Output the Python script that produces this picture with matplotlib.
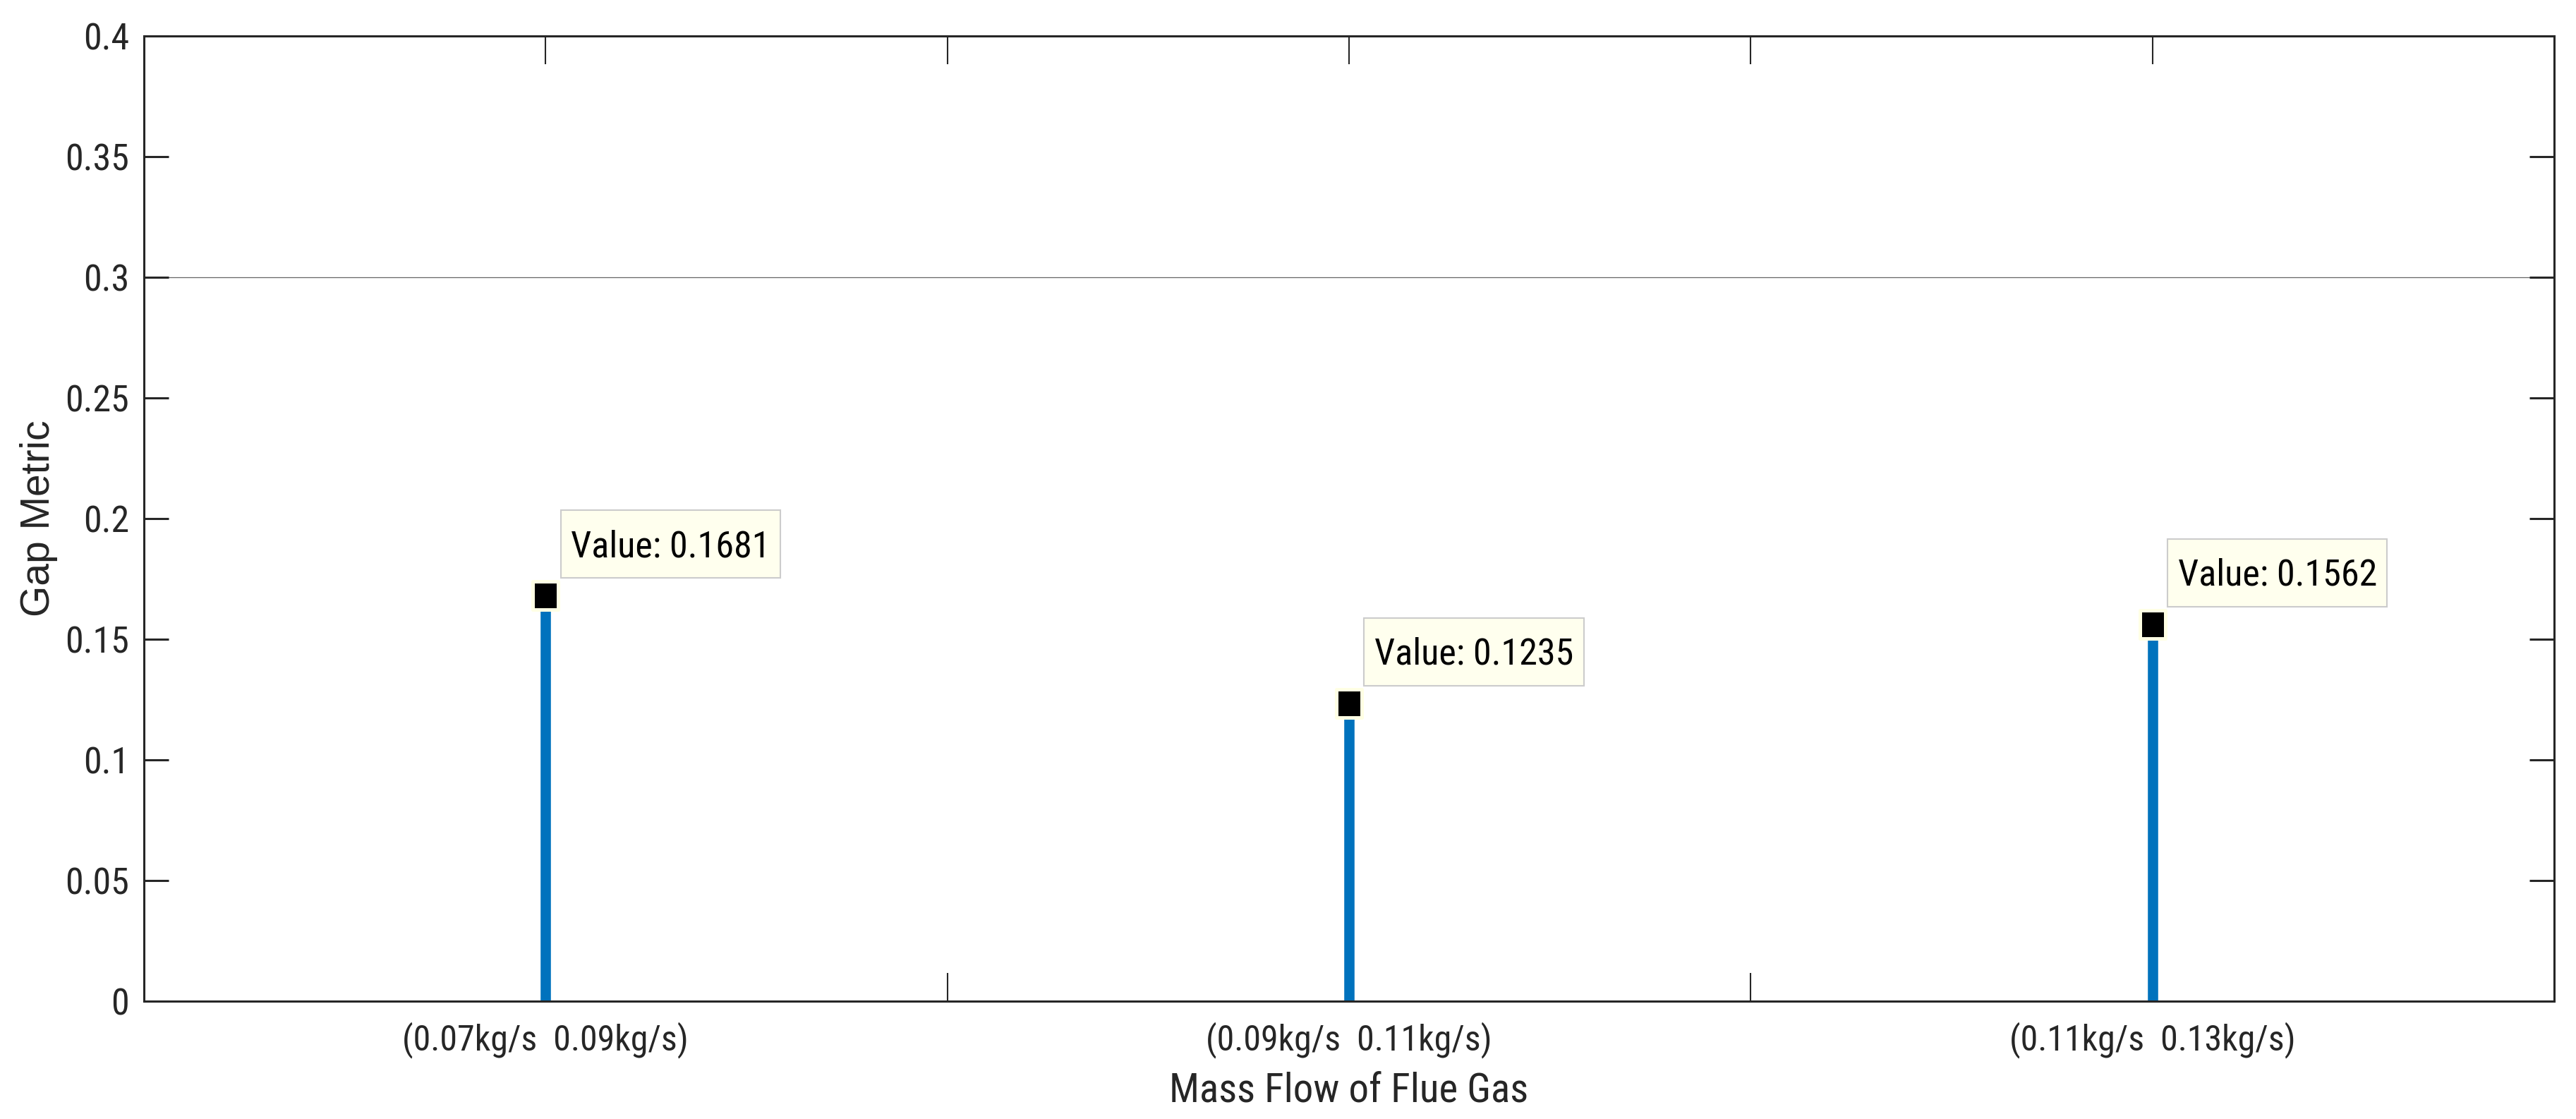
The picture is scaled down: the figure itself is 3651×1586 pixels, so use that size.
import matplotlib
matplotlib.use('Agg')
import matplotlib.pyplot as plt
from matplotlib import font_manager as fm
from matplotlib.path import Path

# ---------------- data ----------------
categories = ['(0.07kg/s  0.09kg/s)', '(0.09kg/s  0.11kg/s)', '(0.11kg/s  0.13kg/s)']
positions = [1, 2, 3]
gap_values = [0.1681, 0.1235, 0.1562]
y_ticks = [0, 0.05, 0.1, 0.15, 0.2, 0.25, 0.3, 0.35, 0.4]
y_tick_labels = ['0', '0.05', '0.1', '0.15', '0.2', '0.25', '0.3', '0.35', '0.4']
threshold = 0.3
x_label = 'Mass Flow of Flue Gas'
y_label = 'Gap Metric'

# ---------------- fonts ----------------
names = {f.name for f in fm.fontManager.ttflist}
narrow = next((n for n in ['Roboto Condensed', 'Archivo Narrow', 'Liberation Sans'] if n in names),
              'DejaVu Sans')
regular = 'Liberation Sans' if 'Liberation Sans' in names else 'DejaVu Sans'
plt.rcParams['font.family'] = [narrow, 'DejaVu Sans']

TXT = '#262626'
XTICK_FS = 36
YTICK_FS = 37.5
TIP_FS = 37.5
LABEL_FS = 41


def tip_box(x0, y0, width, height, mutation_size, hpad=0.28, top=0.52, bottom=0.37):
    px = hpad * mutation_size
    xa, ya = x0 - px, y0 - bottom * mutation_size
    xb, yb = x0 + width + px, y0 + height + top * mutation_size
    return Path([(xa, ya), (xb, ya), (xb, yb), (xa, yb), (xa, ya)],
                [Path.MOVETO, Path.LINETO, Path.LINETO, Path.LINETO, Path.CLOSEPOLY])


# slightly narrow square (datatip marker)
tip_marker = Path([(-0.435, -0.5), (0.435, -0.5), (0.435, 0.5), (-0.435, 0.5), (-0.435, -0.5)],
                  [Path.MOVETO, Path.LINETO, Path.LINETO, Path.LINETO, Path.CLOSEPOLY])

fig = plt.figure(figsize=(36.51, 15.86), dpi=100)
ax = fig.add_axes([0.05587, 0.10530, 0.93563, 0.86255])

# stems
markerline, stemlines, baseline = ax.stem(positions, gap_values, basefmt=' ')
stemlines.set_color('#0072BD')
stemlines.set_linewidth(10.5)
stemlines.set_zorder(2)
markerline.set_visible(False)

# datatip markers
ax.plot(positions, gap_values, linestyle='none', marker=tip_marker, ms=29.5,
        mfc='black', mec='#FFFFE4', mew=3.6, zorder=4, clip_on=False)

# threshold line
ax.axhline(threshold, color='#666666', lw=0.9, zorder=1)

# datatips
for x, v in zip(positions, gap_values):
    ax.annotate(f'Value: {v:.4f}', xy=(x, v), xytext=(36, 44),
                textcoords='offset pixels', ha='left', va='bottom',
                fontsize=TIP_FS, family=[narrow, 'DejaVu Sans'], color='black',
                bbox=dict(boxstyle=tip_box, fc='#FFFFEE', ec='#CCCCCC', lw=1.5),
                zorder=5)

# axes limits and ticks
ax.set_xlim(0.5, 3.5)
ax.set_ylim(0, 0.4)
xt = []
xl = []
for i, (p, c) in enumerate(zip(positions, categories)):
    xt.append(p)
    xl.append(c)
    if i < len(positions) - 1:
        xt.append(p + 0.5)
        xl.append('')
ax.set_xticks(xt)
ax.set_xticklabels(xl, fontsize=XTICK_FS, color=TXT)
ax.set_yticks(y_ticks)
ax.set_yticklabels(y_tick_labels, fontsize=YTICK_FS, color=TXT)

ax.tick_params(axis='x', which='both', direction='in', length=29, width=1.5,
               top=True, bottom=True, pad=21, colors=TXT)
ax.tick_params(axis='y', which='both', direction='in', length=25, width=2.2,
               left=True, right=True, pad=15, colors=TXT)

for s in ax.spines.values():
    s.set_color(TXT)
    s.set_linewidth(2.2)

ax.set_xlabel(x_label, fontsize=LABEL_FS, color=TXT, family=[narrow, 'DejaVu Sans'])
ax.set_ylabel(y_label, fontsize=LABEL_FS, color=TXT, family=[regular, 'DejaVu Sans'])
ax.xaxis.set_label_coords(0.5, -0.0724)
ax.yaxis.set_label_coords(-0.0357, 0.5)

fig.savefig('out.png', dpi=100, facecolor='white')
